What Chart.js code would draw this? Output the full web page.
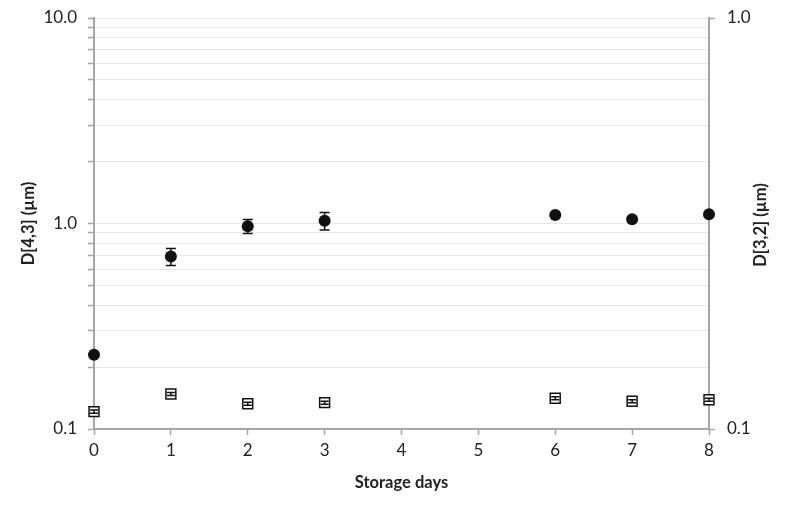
<!DOCTYPE html>
<html><head><meta charset="utf-8">
<script src="https://cdn.jsdelivr.net/npm/chart.js@4.4.1/dist/chart.umd.min.js"></script>
<style>html,body{margin:0;padding:0;background:#fff}#wrap{width:787px;height:508px}</style>
</head><body><div id="wrap"><canvas id="c" width="787" height="508"></canvas></div>
<script>
const days = [0, 1, 2, 3, 6, 7, 8];
const d43 = [0.23, 0.69, 0.97, 1.03, 1.10, 1.05, 1.11];
const d43Err = [0, 0.065, 0.075, 0.10, 0, 0, 0];
const d32 = [0.1102, 0.1217, 0.1152, 0.1159, 0.1188, 0.1168, 0.1178];
const d32Err = [0.001, 0.001, 0.001, 0.001, 0.001, 0.001, 0.001];
const xTicks = [0, 1, 2, 3, 4, 5, 6, 7, 8];
const leftTicks = [0.1,0.2,0.3,0.4,0.5,0.6,0.7,0.8,0.9,1,2,3,4,5,6,7,8,9,10];
const leftLabels = [0.1, 1, 10];
const rightTicks = [0.1, 1];
const leftTitle = 'D[4,3] (\u00b5m)';
const rightTitle = 'D[3,2] (\u00b5m)';
const xTitle = 'Storage days';

const FONT = 'Lato, "Liberation Sans", sans-serif';
const TITLE_SIZE = 16.5;
const errPlugin = {
  id: 'err',
  afterDatasetsDraw(chart) {
    const ctx = chart.ctx;
    const xs = chart.scales.x;
    const sets = [
      {vals: d43, errs: d43Err, scale: chart.scales.y, cap: 5},
      {vals: d32, errs: d32Err, scale: chart.scales.y2, cap: 4}
    ];
    ctx.save();
    ctx.strokeStyle = '#111';
    ctx.lineWidth = 1.5;
    sets.forEach(s => {
      days.forEach((d, i) => {
        const e = s.errs[i];
        if (!e) return;
        const x = xs.getPixelForValue(d);
        const yt = s.scale.getPixelForValue(s.vals[i] + e);
        const yb = s.scale.getPixelForValue(s.vals[i] - e);
        ctx.beginPath();
        ctx.moveTo(x, yt); ctx.lineTo(x, yb);
        ctx.moveTo(x - s.cap, yt); ctx.lineTo(x + s.cap, yt);
        ctx.moveTo(x - s.cap, yb); ctx.lineTo(x + s.cap, yb);
        ctx.stroke();
      });
    });
    ctx.restore();
  }
};
const rightTitlePlugin = {
  id: 'rtitle',
  afterDraw(chart) {
    const ctx = chart.ctx;
    ctx.save();
    ctx.translate(761, 225);
    ctx.rotate(-Math.PI / 2);
    ctx.font = 'bold ' + TITLE_SIZE + 'px ' + FONT;
    ctx.fillStyle = '#222';
    ctx.textAlign = 'center';
    ctx.textBaseline = 'middle';
    ctx.fillText(rightTitle, 0, 0);
    ctx.restore();
  }
};
const noPad = s => { s.paddingTop = 0; s.paddingBottom = 0; s.paddingLeft = 0; s.paddingRight = 0; };

new Chart(document.getElementById('c'), {
  type: 'scatter',
  data: {
    datasets: [
      {
        label: 'D[4,3]',
        data: days.map((d, i) => ({x: d, y: d43[i]})),
        yAxisID: 'y',
        pointStyle: 'circle',
        pointRadius: 6,
        pointBackgroundColor: '#111',
        pointBorderColor: '#111',
        pointBorderWidth: 0,
        clip: false,
        order: 2
      },
      {
        label: 'D[3,2]',
        data: days.map((d, i) => ({x: d, y: d32[i]})),
        yAxisID: 'y2',
        pointStyle: 'rect',
        pointRadius: 7,
        pointBackgroundColor: '#fff',
        pointBorderColor: '#111',
        pointBorderWidth: 1.5,
        clip: false,
        order: 1
      }
    ]
  },
  options: {
    responsive: false,
    animation: false,
    events: [],
    layout: {padding: {top: 18, left: 0, right: 0, bottom: 0}},
    plugins: {legend: {display: false}, tooltip: {enabled: false}},
    scales: {
      x: {
        type: 'linear', min: 0, max: 8,
        afterBuildTicks: s => { s.ticks = xTicks.map(v => ({value: v})); },
        afterFit: s => { s.height = 79; noPad(s); },
        grid: {drawOnChartArea: false, drawTicks: true, tickLength: 6, tickColor: '#a6a6a6', tickWidth: 1.5},
        border: {color: '#a6a6a6', width: 2},
        ticks: {font: {family: FONT, size: 17}, color: '#222', padding: 5},
        title: {display: true, text: xTitle, font: {family: FONT, size: TITLE_SIZE, weight: 'bold'}, color: '#222', padding: {top: 0, bottom: 15}}
      },
      y: {
        type: 'logarithmic', position: 'left', min: 0.1, max: 10,
        afterBuildTicks: s => { s.ticks = leftTicks.map(v => ({value: v})); },
        afterFit: s => { s.width = 94; noPad(s); },
        grid: {color: '#e8e8e8', lineWidth: 1, drawTicks: true, tickLength: 6, tickColor: '#a6a6a6', tickWidth: 1.5},
        border: {color: '#a6a6a6', width: 2},
        ticks: {
          font: {family: FONT, size: 17}, color: '#222', padding: 11, autoSkip: false,
          callback: v => leftLabels.some(l => Math.abs(l - v) < 1e-9) ? v.toFixed(1) : ''
        },
        title: {display: true, text: leftTitle, font: {family: FONT, size: TITLE_SIZE, weight: 'bold'}, color: '#222', padding: {top: 19, bottom: 0}}
      },
      y2: {
        type: 'logarithmic', position: 'right', min: 0.1, max: 1,
        afterBuildTicks: s => { s.ticks = rightTicks.map(v => ({value: v})); },
        afterFit: s => { s.width = 78; noPad(s); },
        grid: {drawOnChartArea: false, drawTicks: true, tickLength: 6, tickColor: '#a6a6a6', tickWidth: 1.5},
        border: {color: '#a6a6a6', width: 2},
        ticks: {font: {family: FONT, size: 17}, color: '#222', padding: 12, autoSkip: false, callback: v => v.toFixed(1)}
      }
    }
  },
  plugins: [errPlugin, rightTitlePlugin]
});
</script></body></html>
